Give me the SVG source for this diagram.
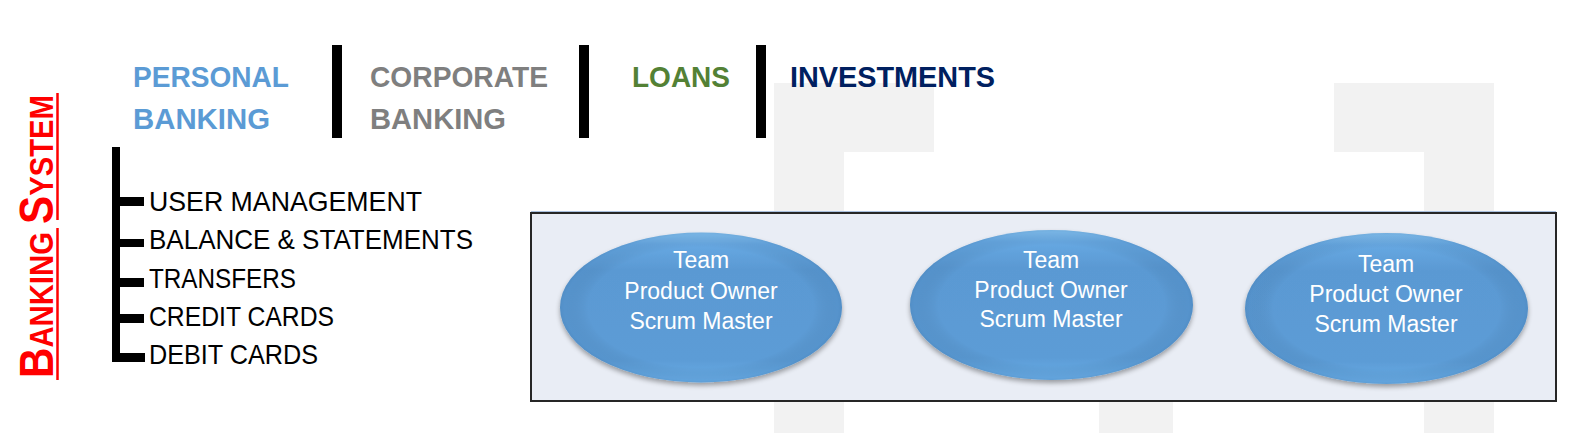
<svg xmlns="http://www.w3.org/2000/svg" width="1577" height="433" viewBox="0 0 1577 433">
  <style>
    .hdr { font-family: "Liberation Sans", Arial, sans-serif; font-weight: bold; font-size: 30px; }
    .item { font-family: "Liberation Sans", Arial, sans-serif; font-size: 27.5px; fill: #000000; }
    .team { font-family: "Liberation Sans", Arial, sans-serif; font-size: 23px; fill: #FFFFFF; text-anchor: middle; }
    .bar { fill: #000000; }
    .bg { fill: #F2F2F2; }
    .oval { fill: url(#ovalGrad); filter: url(#shadow); }
    .ovalHi { fill: url(#ovalEdge); }
  </style>
  <defs>
    <linearGradient id="ovalGrad" x1="0" y1="0" x2="0" y2="1">
      <stop offset="0" stop-color="#86C3F2"/>
      <stop offset="0.08" stop-color="#67A8E2"/>
      <stop offset="0.25" stop-color="#5A99D3"/>
      <stop offset="0.85" stop-color="#5C9CD6"/>
      <stop offset="1" stop-color="#6AAEE8"/>
    </linearGradient>
    <radialGradient id="ovalEdge" cx="0.5" cy="0.5" r="0.5">
      <stop offset="0.8" stop-color="#000000" stop-opacity="0"/>
      <stop offset="0.97" stop-color="#2C5F8F" stop-opacity="0.12"/>
      <stop offset="1" stop-color="#2C5F8F" stop-opacity="0.2"/>
    </radialGradient>
    <filter id="shadow" x="-10%" y="-10%" width="120%" height="130%">
      <feGaussianBlur in="SourceAlpha" stdDeviation="2.5"/>
      <feOffset dx="0" dy="3" result="b"/>
      <feComponentTransfer><feFuncA type="linear" slope="0.35"/></feComponentTransfer>
      <feMerge><feMergeNode/><feMergeNode in="SourceGraphic"/></feMerge>
    </filter>
  </defs>

  <rect x="0" y="0" width="1577" height="433" fill="#FFFFFF"/>

  <g id="background">
    <path class="bg" d="M774,83 H934 V152 H844 V433 H774 Z"/>
    <path class="bg" d="M1334,83 H1494 V433 H1424 V152 H1334 Z"/>
    <rect class="bg" x="1099" y="400" width="74" height="33"/>
  </g>

  <g id="title-banking-system">
    <text transform="translate(53,378) rotate(-90)" font-family="Liberation Sans, Arial, sans-serif" font-weight="bold" fill="#FF0000" textLength="283" lengthAdjust="spacingAndGlyphs"><tspan font-size="49">B</tspan><tspan font-size="34">ANKING </tspan><tspan font-size="49">S</tspan><tspan font-size="34">YSTEM</tspan></text>
    <line x1="57.5" y1="380" x2="57.5" y2="228" stroke="#FF0000" stroke-width="2.5"/>
    <line x1="57.5" y1="220" x2="57.5" y2="93" stroke="#FF0000" stroke-width="2.5"/>
  </g>

  <g id="header-personal">
    <text class="hdr" x="133" y="87" fill="#5B9BD5" textLength="156" lengthAdjust="spacingAndGlyphs">PERSONAL</text>
    <text class="hdr" x="133" y="129" fill="#5B9BD5" textLength="137" lengthAdjust="spacingAndGlyphs">BANKING</text>
  </g>
  <g id="header-corporate">
    <text class="hdr" x="370" y="87" fill="#7F7F7F" textLength="178" lengthAdjust="spacingAndGlyphs">CORPORATE</text>
    <text class="hdr" x="370" y="129" fill="#7F7F7F" textLength="136" lengthAdjust="spacingAndGlyphs">BANKING</text>
  </g>
  <g id="header-loans">
    <text class="hdr" x="632" y="87" fill="#538135" textLength="98" lengthAdjust="spacingAndGlyphs">LOANS</text>
  </g>
  <g id="header-investments">
    <text class="hdr" x="790" y="87" fill="#002060" textLength="205" lengthAdjust="spacingAndGlyphs">INVESTMENTS</text>
  </g>
  <g id="separators">
    <rect class="bar" x="332" y="45" width="10" height="93"/>
    <rect class="bar" x="579" y="45" width="10" height="93"/>
    <rect class="bar" x="756" y="45" width="10" height="93"/>
  </g>

  <g id="connectors">
    <rect class="bar" x="112" y="147" width="8" height="215"/>
    <rect class="bar" x="112" y="197" width="32" height="9"/>
    <rect class="bar" x="112" y="239" width="32" height="8"/>
    <rect class="bar" x="112" y="278" width="32" height="9"/>
    <rect class="bar" x="112" y="314" width="32" height="9"/>
    <rect class="bar" x="112" y="353" width="33" height="9"/>
  </g>

  <g id="item-user-management"><text class="item" x="149" y="211" textLength="273" lengthAdjust="spacingAndGlyphs">USER MANAGEMENT</text></g>
  <g id="item-balance"><text class="item" x="149" y="249" textLength="324" lengthAdjust="spacingAndGlyphs">BALANCE &amp; STATEMENTS</text></g>
  <g id="item-transfers"><text class="item" x="149" y="288" textLength="147" lengthAdjust="spacingAndGlyphs">TRANSFERS</text></g>
  <g id="item-credit-cards"><text class="item" x="149" y="326" textLength="185" lengthAdjust="spacingAndGlyphs">CREDIT CARDS</text></g>
  <g id="item-debit-cards"><text class="item" x="149" y="364" textLength="169" lengthAdjust="spacingAndGlyphs">DEBIT CARDS</text></g>

  <g id="teams-box">
    <rect x="531" y="213" width="1025" height="188" fill="#E9EDF5" stroke="#262626" stroke-width="2"/>
    <line x1="531" y1="211.5" x2="1556" y2="211.5" stroke="#A9C0DE" stroke-width="1"/>
  </g>

  <g id="team-1">
    <ellipse class="oval" cx="701" cy="307.5" rx="141" ry="75"/>
    <ellipse class="ovalHi" cx="701" cy="307.5" rx="141" ry="75"/>
    <text class="team" x="701" y="268">Team</text>
    <text class="team" x="701" y="299">Product Owner</text>
    <text class="team" x="701" y="329">Scrum Master</text>
  </g>
  <g id="team-2">
    <ellipse class="oval" cx="1051.5" cy="305" rx="141.5" ry="75"/>
    <ellipse class="ovalHi" cx="1051.5" cy="305" rx="141.5" ry="75"/>
    <text class="team" x="1051" y="268">Team</text>
    <text class="team" x="1051" y="298">Product Owner</text>
    <text class="team" x="1051" y="327">Scrum Master</text>
  </g>
  <g id="team-3">
    <ellipse class="oval" cx="1386.5" cy="308.5" rx="141.5" ry="75.5"/>
    <ellipse class="ovalHi" cx="1386.5" cy="308.5" rx="141.5" ry="75.5"/>
    <text class="team" x="1386" y="272">Team</text>
    <text class="team" x="1386" y="302">Product Owner</text>
    <text class="team" x="1386" y="332">Scrum Master</text>
  </g>
</svg>
